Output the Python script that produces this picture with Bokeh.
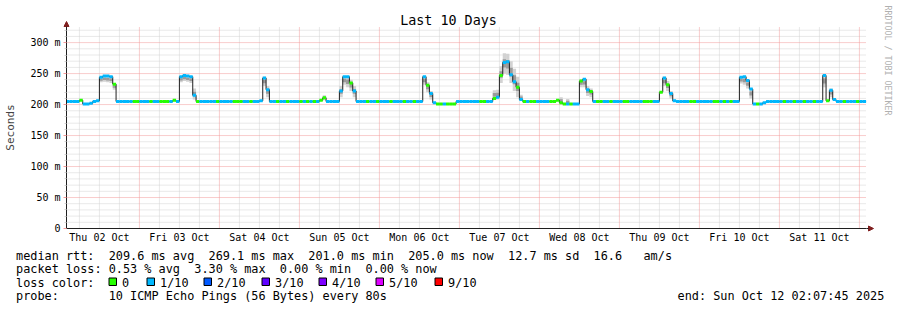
import datetime as dt
import math
from bokeh.plotting import figure
from bokeh.models import (Range1d, FixedTicker, DatetimeTickFormatter, Label,
                          ColumnDataSource, Arrow, NormalHead, BoxAnnotation,
                          DatetimeAxis, LinearAxis)
from bokeh.embed import file_html
from bokeh.resources import INLINE

# ---------------- data ----------------
TITLE = "Last 10 Days"
START_TIME = dt.datetime(2025, 10, 2, 2, 7, 45)
END_TIME = dt.datetime(2025, 10, 12, 2, 7, 45)
FIRST_SAMPLE = dt.datetime(2025, 10, 2, 2, 0, 0)   # hourly samples
Y_TOP = 326

# median RTT per hour (ms), one line per day
median_ms = [
    205, 205, 205, 205, 207, 201, 201, 202, 205, 206, 244, 246, 246, 245, 233, 205, 205, 205, 205, 205, 205, 205, 205, 205,
    205, 205, 205, 205, 205, 205, 205, 205, 207, 205, 245, 247, 246, 245, 215, 205, 205, 205, 205, 205, 205, 205, 205, 205,
    205, 205, 205, 205, 205, 205, 205, 205, 205, 205, 206, 243, 224, 205, 205, 205, 205, 205, 205, 205, 205, 205, 205, 205,
    205, 205, 205, 205, 207, 211, 205, 205, 205, 205, 222, 245, 245, 235, 222, 205, 205, 205, 205, 205, 205, 205, 205, 205,
    205, 205, 205, 205, 205, 205, 205, 205, 205, 205, 205, 245, 231, 218, 203, 201, 201, 201, 201, 201, 201, 205, 205, 205,
    205, 205, 205, 205, 205, 205, 205, 205, 210, 212, 247, 268, 269, 248, 237, 228, 208, 205, 205, 205, 205, 205, 205, 205,
    205, 205, 205, 207, 203, 201, 201, 201, 201, 201, 238, 241, 224, 221, 205, 205, 205, 205, 205, 205, 205, 205, 205, 205,
    205, 205, 205, 205, 205, 205, 205, 205, 205, 205, 220, 243, 232, 218, 206, 205, 205, 205, 205, 205, 205, 205, 205, 205,
    205, 205, 205, 205, 205, 205, 205, 205, 205, 205, 244, 245, 239, 225, 201, 201, 201, 203, 205, 205, 205, 205, 205, 205,
    205, 205, 205, 205, 205, 205, 205, 205, 205, 205, 205, 247, 206, 223, 208, 205, 205, 205, 205, 205, 205, 205, 205, 205,
]

# loss level per hour (index into loss legend: 0 -> 0 lost, 1 -> 1/10 ...)
loss_level = [
    1, 1, 1, 1, 0, 1, 1, 1, 1, 1, 1, 1, 1, 1, 0, 1, 1, 1, 1, 1, 0, 0, 1, 1,
    1, 0, 1, 1, 0, 0, 0, 1, 0, 1, 1, 1, 1, 1, 1, 0, 1, 1, 1, 1, 1, 0, 1, 1,
    1, 1, 0, 0, 0, 1, 1, 0, 1, 1, 1, 1, 1, 1, 1, 0, 1, 1, 0, 1, 1, 1, 0, 1,
    0, 1, 0, 1, 0, 0, 1, 1, 1, 1, 1, 1, 1, 0, 1, 1, 1, 1, 0, 1, 1, 0, 1, 1,
    1, 0, 1, 1, 1, 0, 1, 1, 0, 1, 1, 1, 0, 1, 1, 0, 0, 1, 0, 0, 0, 1, 1, 1,
    1, 1, 1, 1, 0, 0, 1, 1, 0, 1, 0, 1, 1, 1, 1, 0, 1, 0, 1, 0, 0, 1, 1, 1,
    1, 0, 0, 0, 0, 0, 1, 0, 1, 1, 0, 1, 1, 0, 1, 0, 0, 1, 1, 0, 1, 1, 1, 0,
    0, 1, 1, 1, 1, 0, 0, 0, 1, 1, 0, 1, 0, 1, 1, 1, 1, 1, 1, 0, 0, 1, 1, 1,
    1, 1, 0, 0, 1, 0, 1, 0, 1, 1, 1, 1, 1, 1, 1, 0, 1, 1, 1, 1, 1, 1, 1, 0,
    1, 1, 0, 1, 1, 0, 1, 1, 0, 1, 1, 1, 0, 1, 1, 1, 1, 0, 1, 1, 1, 0, 1, 1,
]

# smoke (spread of the individual pings) where it is visible
smoke_index = [10, 11, 12, 13, 14, 34, 35, 36, 37, 38, 59, 60, 77, 82, 83, 84, 85, 86,
               107, 108, 109, 128, 129, 130, 131, 132, 133, 134, 135, 136, 148, 150,
               154, 155, 156, 157, 179, 180, 181, 202, 203, 204, 205, 227, 229]
smoke_lo = [236, 237, 236, 235, 224, 236, 238, 237, 235, 208, 230, 212, 207, 212, 232, 228, 222, 212,
            232, 220, 208, 208, 208, 235, 250, 248, 235, 222, 212, 206, 200, 200,
            228, 228, 214, 212, 230, 222, 210, 234, 232, 226, 210, 228, 212]
smoke_hi = [244, 246, 246, 245, 234, 245, 247, 246, 245, 226, 245, 230, 215, 230, 246, 246, 240, 230,
            246, 236, 222, 223, 224, 262, 283, 282, 270, 258, 245, 216, 212, 209,
            241, 242, 230, 226, 245, 238, 222, 245, 246, 240, 226, 248, 226]

day_label_times = [dt.datetime(2025, 10, d, 12) for d in range(2, 12)]
y_ticks = [0, 50, 100, 150, 200, 250, 300]
y_tick_labels = ["0", "50 m", "100 m", "150 m", "200 m", "250 m", "300 m"]

loss_colors = ["#26ff00", "#00b8ff", "#0059ff", "#5e00ff", "#7e00ff", "#dd00ff", "#ff0000"]
loss_names = ["0", "1/10", "2/10", "3/10", "4/10", "5/10", "9/10"]

rtt_avg, rtt_max, rtt_min, rtt_now, rtt_sd, am_s = 209.6, 269.1, 201.0, 205.0, 12.7, 16.6
loss_avg, loss_max, loss_min, loss_now = 0.53, 3.30, 0.00, 0.00
probe_text = "10 ICMP Echo Pings (56 Bytes) every 80s"
end_text = "end: Sun Oct 12 02:07:45 2025"
watermark = "RRDTOOL / TOBI OETIKER"

# ---------------- layout constants ----------------
EPOCH = dt.datetime(1970, 1, 1)


def ms(d):
    return (d - EPOCH).total_seconds() * 1000.0


FONT = "DejaVu Sans Mono"
W, H = 897, 310
PL, PR, PT, PB = 66, 866, 26, 228     # plot area in canvas pixels

x_per_px = (ms(END_TIME) - ms(START_TIME)) / (PR - PL)
y_per_px = Y_TOP / (PB - PT)
x_lo = ms(START_TIME) - PL * x_per_px
x_hi = ms(END_TIME) + (W - PR) * x_per_px
y_lo = -(H - PB) * y_per_px
y_hi = Y_TOP + PT * y_per_px

p = figure(width=W, height=H, output_backend="svg", toolbar_location=None,
           title=None, x_axis_type=None, y_axis_type=None,
           x_range=Range1d(x_lo, x_hi), y_range=Range1d(y_lo, y_hi),
           min_border=0, background_fill_color="white",
           border_fill_color="white", outline_line_color=None)
p.grid.visible = False

# ---------------- grid (dotted) ----------------
t_start, t_end = ms(START_TIME), ms(END_TIME)
midnights = [ms(dt.datetime(2025, 10, d)) for d in range(3, 13)]
six_hours = [ms(dt.datetime(2025, 10, 2) + dt.timedelta(hours=6 * k))
             for k in range(0, 42) if k % 4 != 0]
six_hours = [t for t in six_hours if t_start < t < t_end]
y_minor = [v for v in range(10, Y_TOP, 10) if v % 50 != 0]
y_major = [50, 100, 150, 200, 250, 300]

GRID_MINOR = "#d2d2d2"
GRID_MAJOR = "#f29a9a"
p.segment(x0=six_hours, x1=six_hours, y0=0, y1=Y_TOP, line_color=GRID_MINOR,
          line_dash="1 1", line_width=1)
p.segment(x0=t_start, x1=t_end, y0=y_minor, y1=y_minor, line_color=GRID_MINOR,
          line_dash="1 1", line_width=1)
p.segment(x0=midnights, x1=midnights, y0=0, y1=Y_TOP, line_color=GRID_MAJOR,
          line_dash="1 1", line_width=1)
p.segment(x0=t_start, x1=t_end, y0=y_major, y1=y_major, line_color=GRID_MAJOR,
          line_dash="1 1", line_width=1)

# ---------------- data marks ----------------
n = len(median_ms)
t0 = [FIRST_SAMPLE + dt.timedelta(hours=i) for i in range(n)]
t1 = [FIRST_SAMPLE + dt.timedelta(hours=i + 1) for i in range(n)]

s_left = [t0[i] for i in smoke_index]
s_right = [t1[i] for i in smoke_index]
p.quad(left=s_left, right=s_right, bottom=smoke_lo, top=smoke_hi,
       fill_color="#d2d2d2", line_color=None)
in_lo = [lo + (hi - lo) * 0.3 for lo, hi in zip(smoke_lo, smoke_hi)]
in_hi = [hi - (hi - lo) * 0.3 for lo, hi in zip(smoke_lo, smoke_hi)]
p.quad(left=s_left, right=s_right, bottom=in_lo, top=in_hi,
       fill_color="#9a9a9a", line_color=None)

p.step(x=t0 + [t1[-1]], y=median_ms + [median_ms[-1]], mode="after",
       line_color="#202020", line_width=1)
seg = ColumnDataSource(dict(t0=t0, t1=t1, y=median_ms,
                            c=[loss_colors[l] for l in loss_level]))
p.segment(x0="t0", y0="y", x1="t1", y1="y", line_color="c", line_width=3,
          line_cap="butt", source=seg)

# ---------------- axes (fixed at the plot-area edges) ----------------
xaxis = DatetimeAxis(fixed_location=0, bounds=(t_start, t_end))
xaxis.ticker = FixedTicker(ticks=[ms(d) for d in day_label_times])
fmt = "%a %d %b"
xaxis.formatter = DatetimeTickFormatter(microseconds=fmt, milliseconds=fmt, seconds=fmt,
                                        minsec=fmt, minutes=fmt, hourmin=fmt, hours=fmt,
                                        days=fmt, months=fmt, years=fmt)
xaxis.major_tick_out = 0
xaxis.major_tick_in = 0
xaxis.minor_tick_line_color = None
xaxis.major_label_standoff = 3
p.add_layout(xaxis, "below")

yaxis = LinearAxis(fixed_location=t_start, bounds=(0, Y_TOP))
yaxis.ticker = FixedTicker(ticks=y_ticks, minor_ticks=y_minor)
yaxis.major_label_overrides = {t: s for t, s in zip(y_ticks, y_tick_labels)}
yaxis.major_tick_out = 3
yaxis.major_tick_in = 0
yaxis.major_tick_line_color = GRID_MAJOR
yaxis.minor_tick_out = 2
yaxis.minor_tick_in = 0
yaxis.minor_tick_line_color = GRID_MINOR
yaxis.major_label_standoff = 3
yaxis.axis_label = "Seconds"
yaxis.axis_label_text_font = FONT
yaxis.axis_label_text_font_size = "11px"
yaxis.axis_label_text_font_style = "normal"
yaxis.axis_label_standoff = 10
p.add_layout(yaxis, "left")

for ax in (xaxis, yaxis):
    ax.axis_line_color = "#1f1f1f"
    ax.major_label_text_font = FONT
    ax.major_label_text_font_size = "10px"
    ax.major_label_text_color = "black"

# axis arrows
head = dict(size=5, fill_color="#801f1f", line_color="#801f1f")
p.add_layout(Arrow(end=NormalHead(**head), x_start=t_start, y_start=Y_TOP,
                   x_end=t_start, y_end=Y_TOP + 5 * y_per_px, line_color="#1f1f1f"))
p.add_layout(Arrow(end=NormalHead(**head), x_start=t_end, y_start=0,
                   x_end=t_end + 7 * x_per_px, y_end=0, line_color="#1f1f1f"))


# ---------------- texts (canvas pixel positions) ----------------
NBSP = "\u00a0"


def label(x, y, text, size="11.85px", align="left", color="black", angle=0.0,
          baseline="alphabetic"):
    p.add_layout(Label(x=x, y=H - y, x_units="screen", y_units="screen",
                       text=text.replace(" ", NBSP), text_font=FONT,
                       text_font_size=size, text_align=align,
                       text_baseline=baseline, text_color=color, angle=angle))


label(448, 19.5, TITLE, size="13.4px", align="center")
label(887, 5, watermark, size="8.3px", color="#b0b0b0", angle=-math.pi / 2,
      baseline="middle")

ROWS = [255.0, 268.5, 282.0, 295.5]    # text baselines of the four legend rows
line1 = (f"median rtt:  {rtt_avg:.1f} ms avg  {rtt_max:.1f} ms max  "
         f"{rtt_min:.1f} ms min  {rtt_now:.1f} ms now  {rtt_sd:.1f} ms sd  "
         f"{am_s:.1f}   am/s")
label(15.5, ROWS[0], line1)
line2 = (f"packet loss: {loss_avg:.2f} % avg  {loss_max:.2f} % max  "
         f"{loss_min:.2f} % min  {loss_now:.2f} % now")
label(15.5, ROWS[1], line2)
label(15.5, ROWS[2], "loss color:")
sq_left = [108, 146, 203, 261, 318, 375, 434]
for xl, col, name in zip(sq_left, loss_colors, loss_names):
    p.add_layout(BoxAnnotation(left=xl + 0.5, right=xl + 8.0, top=H - 277.5, bottom=H - 285.0,
                               left_units="screen", right_units="screen",
                               top_units="screen", bottom_units="screen",
                               fill_color=col, fill_alpha=1.0, line_color="black",
                               line_alpha=1.0, line_width=1))
    label(xl + 13.5, ROWS[2], name)
label(15.5, ROWS[3], "probe:       " + probe_text)
label(677, ROWS[3], end_text)

open("out.html", "w").write(file_html(p, INLINE))
